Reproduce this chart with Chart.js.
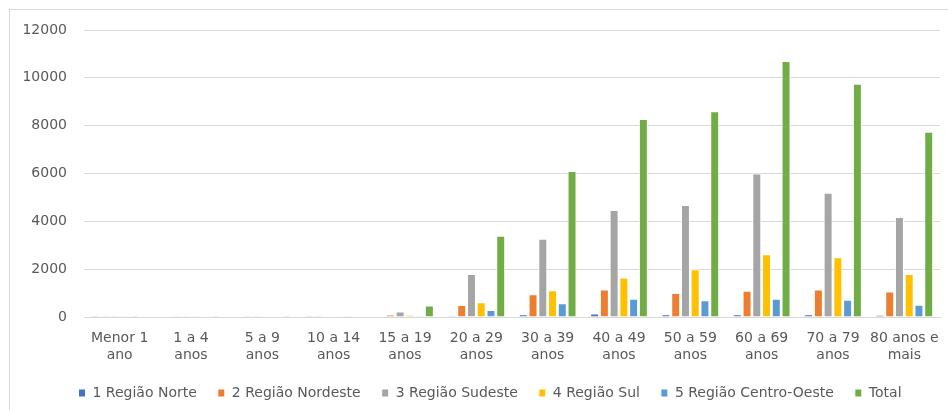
<!DOCTYPE html>
<html>
<head>
<meta charset="utf-8">
<script src="https://cdn.jsdelivr.net/npm/chart.js@4/dist/chart.umd.min.js"></script>
<style>
  html, body { margin: 0; padding: 0; background: #fff; }
  #wrap { position: relative; width: 948px; height: 410px; overflow: hidden; }
</style>
</head>
<body>
<div id="wrap"><canvas id="c" width="948" height="410"></canvas></div>
<script>
// Faixas etárias
const categories = [
  ["Menor 1", "ano"], ["1 a 4", "anos"], ["5 a 9", "anos"], ["10 a 14", "anos"],
  ["15 a 19", "anos"], ["20 a 29", "anos"], ["30 a 39", "anos"], ["40 a 49", "anos"],
  ["50 a 59", "anos"], ["60 a 69", "anos"], ["70 a 79", "anos"], ["80 anos e", "mais"]
];

// Valores por região
const regiaoNorte       = [2, 0, 0, 1, 15, 50, 110, 150, 120, 120, 110, 80];
const regiaoNordeste    = [5, 1, 1, 4, 100, 500, 950, 1150, 1000, 1100, 1150, 1070];
const regiaoSudeste     = [40, 2, 1, 12, 230, 1800, 3270, 4470, 4680, 6000, 5200, 4180];
const regiaoSul         = [5, 1, 0, 4, 90, 620, 1120, 1650, 2000, 2620, 2500, 1800];
const regiaoCentroOeste = [3, 0, 0, 2, 40, 290, 580, 760, 700, 760, 720, 510];
const total             = [30, 4, 2, 25, 480, 3400, 6100, 8280, 8600, 10700, 9750, 7750];

const yTicks = [0, 2000, 4000, 6000, 8000, 10000, 12000];

const seriesNames = ["1 Região Norte", "2 Região Nordeste", "3 Região Sudeste",
                     "4 Região Sul", "5 Região Centro-Oeste", "Total"];
const seriesData = [regiaoNorte, regiaoNordeste, regiaoSudeste, regiaoSul, regiaoCentroOeste, total];
const colors = ["#4472C4", "#ED7D31", "#A5A5A5", "#FFC000", "#5B9BD5", "#70AD47"];

// moldura cinza em volta do gráfico
const frame = {
  id: "frame",
  beforeDraw(chart) {
    const ctx = chart.ctx;
    ctx.save();
    ctx.strokeStyle = "#d9d9d9";
    ctx.lineWidth = 1;
    ctx.strokeRect(9.5, 9.5, 960, 420);
    ctx.restore();
  }
};

// legenda centralizada sob a área de plotagem
const legendShift = {
  id: "legendShift",
  afterLayout(chart) {
    const lg = chart.legend;
    if (lg) { lg.left += 20; lg.right += 20; }
  }
};

const font = "'DejaVu Sans', sans-serif";

new Chart(document.getElementById("c"), {
  type: "bar",
  data: {
    labels: categories,
    datasets: seriesNames.map((name, i) => ({
      label: name,
      data: seriesData[i],
      backgroundColor: colors[i],
      borderColor: "#ffffff",
      borderWidth: 1,
      categoryPercentage: 0.82,
      barPercentage: 0.92
    }))
  },
  options: {
    responsive: false,
    animation: false,
    layout: { padding: { left: 0, right: 8, top: 30, bottom: 0 } },
    plugins: {
      legend: {
        position: "bottom",
        labels: {
          boxWidth: 7, boxHeight: 8, padding: 21,
          color: "#595959",
          font: { family: font, size: 14 }
        }
      },
      tooltip: { enabled: false }
    },
    scales: {
      x: {
        grid: { display: false },
        border: { color: "#d9d9d9" },
        afterFit(scale) { scale.height = 48; },
        ticks: {
          color: "#595959",
          font: { family: font, size: 14 },
          maxRotation: 0, autoSkip: false, padding: 5
        }
      },
      y: {
        min: 0, max: 12000,
        afterBuildTicks(scale) { scale.ticks = yTicks.map(v => ({ value: v })); },
        afterFit(scale) { scale.width = 84; },
        grid: { color: "#d9d9d9", drawTicks: false },
        border: { display: false },
        ticks: {
          color: "#595959",
          font: { family: font, size: 14 },
          padding: 17,
          callback: v => String(v)
        }
      }
    }
  },
  plugins: [frame, legendShift]
});
</script>
</body>
</html>
